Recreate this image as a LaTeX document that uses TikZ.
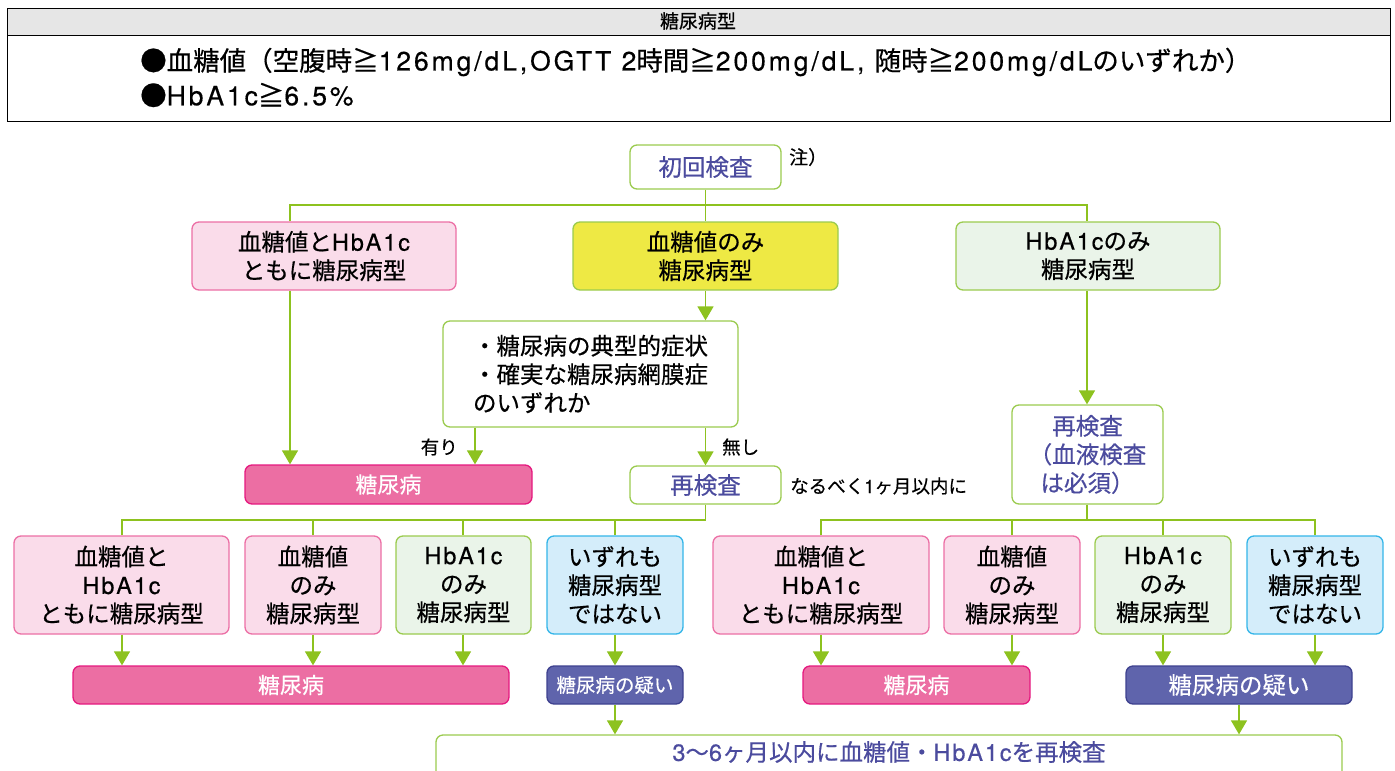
\documentclass[tikz,border=0pt]{standalone}
\usepackage{fontspec}
\setmainfont{Noto Sans CJK JP}[FakeBold=0.5]
\newfontfamily\latws{TeX Gyre Heros}[FakeBold=0.4,LetterSpace=8]
\newfontfamily\lathd{TeX Gyre Heros}[FakeBold=0.4,LetterSpace=11]
\newcommand\lw[1]{{\latws #1}}
\newcommand\lh[1]{{\lathd #1}}
\usetikzlibrary{arrows.meta}
\definecolor{lgreen}{HTML}{8DC21F}
\definecolor{bgreen}{HTML}{9BCB4F}
\definecolor{pinkfill}{HTML}{FADCEA}
\definecolor{pinkline}{HTML}{EC6FA5}
\definecolor{greenfill}{HTML}{EAF4E9}
\definecolor{cyanfill}{HTML}{D4EDFA}
\definecolor{cyanline}{HTML}{33B5E8}
\definecolor{yel}{HTML}{EEE944}
\definecolor{magfill}{HTML}{EC6EA3}
\definecolor{magline}{HTML}{E5197F}
\definecolor{purfill}{HTML}{5F64AC}
\definecolor{purline}{HTML}{3E418F}
\definecolor{purtext}{HTML}{4B4B9E}
\definecolor{hdrgray}{HTML}{E6E6E6}
\begin{document}
\begin{tikzpicture}[x=1pt,y=-1pt,
 box/.style={draw, rounded corners=7pt, line width=1.3pt, align=center, inner sep=0pt, font=\fontsize{23.5}{28.5}\selectfont},
 wbox/.style={box, draw=bgreen, fill=white},
 pbox/.style={box, draw=pinkline, fill=pinkfill},
 gbox/.style={box, draw=bgreen, fill=greenfill},
 cbox/.style={box, draw=cyanline, fill=cyanfill},
 ybox/.style={box, draw=bgreen, fill=yel},
 mbar/.style={box, draw=magline, fill=magfill, text=white},
 qbar/.style={box, draw=purline, fill=purfill, text=white},
 conn/.style={draw=lgreen, line width=1.5pt},
 arr/.style={conn, -{Triangle[width=16pt,length=14pt]}},
 lbl/.style={font=\fontsize{18.5}{22}\selectfont, inner sep=0pt},
 hdr/.style={inner sep=0pt, anchor=west, font=\fontsize{26.5}{30}\selectfont}
]
\useasboundingbox (0,0) rectangle (1395,771);
% header
\draw[line width=1pt, fill=hdrgray] (7,8) rectangle (1390,35);
\draw[line width=1pt] (7,8) rectangle (1390,121);
\node[inner sep=0pt, font=\fontsize{19}{22}\selectfont] (htitle) at (698,21) {糖尿病型};
\node[hdr] (hl1) at (140,62) {●血糖値（空腹時≧\lh{126mg/dL,OGTT 2}時間≧\lh{200mg/dL, }随時≧\lh{200mg/dL}のいずれか）};
\node[hdr] (hl2) at (140,95) {●\lh{HbA1c}≧\lh{6.5\%}};

% level 1
\node[wbox, text=purtext, minimum width=151pt, minimum height=44pt] (init) at (705.5,167) {初回検査};
\node[lbl, anchor=west, font=\fontsize{19}{22}\selectfont] (note) at (789,157) {注）};
\node[pbox, minimum width=264pt, minimum height=68pt] (A) at (324,256) {血糖値と\lw{HbA1c}\\ともに糖尿病型};
\node[ybox, minimum width=265pt, minimum height=68pt] (B) at (705.5,256) {血糖値のみ\\糖尿病型};
\node[gbox, minimum width=264pt, minimum height=68pt] (C) at (1088,256) {\lw{HbA1c}のみ\\糖尿病型};
\coordinate (j1) at (705.5,205);
\coordinate (xa) at (290,0);
\coordinate (xc) at (1087,0);
\draw[conn] (init) -- (B);
\draw[conn] (xa |- A.north) -- (xa |- j1) -- (xc |- j1) -- (xc |- C.north);

% level 2
\node[wbox, align=left, minimum width=295pt, minimum height=106pt] (D) at (590.5,374) {・糖尿病の典型的症状\\・確実な糖尿病網膜症\\のいずれか};
\draw[arr] (B.south) -- (B.south |- D.north);
\node[mbar, minimum width=287pt, minimum height=39pt, font=\fontsize{22}{26}\selectfont] (E) at (388.5,484.5) {糖尿病};
\node[wbox, text=purtext, minimum width=151pt, minimum height=38pt] (F) at (705.5,485) {再検査};
\node[lbl, anchor=west] (soon) at (790,486) {なるべく\lw{1}ヶ月以内に};
\coordinate (xy) at (475,0);
\draw[arr] (xy |- D.south) -- (xy |- E.north);
\node[lbl, anchor=east] (ari) at (458,447) {有り};
\draw[arr] (F.north |- D.south) -- (F.north);
\node[lbl, anchor=west] (nashi) at (722,447) {無し};
\draw[arr] (xa |- A.south) -- (xa |- E.north);
\node[wbox, text=purtext, align=left, minimum width=151pt, minimum height=99pt] (G) at (1087.5,454.5) {\hspace*{1em}再検査\\（血液検査\\\hspace*{0.5em}は必須）};
\draw[arr] (xc |- C.south) -- (xc |- G.north);

% level 3 left
\node[pbox, minimum width=215pt, minimum height=98pt] (L1) at (121.5,585) {血糖値と\\\lw{HbA1c}\\ともに糖尿病型};
\node[pbox, minimum width=136pt, minimum height=98pt] (L2) at (313,585) {血糖値\\のみ\\糖尿病型};
\node[gbox, minimum width=135pt, minimum height=98pt] (L3) at (463.5,585) {\lw{HbA1c}\\のみ\\糖尿病型};
\node[cbox, minimum width=136pt, minimum height=98pt] (L4) at (615,585) {いずれも\\糖尿病型\\ではない};
\coordinate (j2) at (705.5,520);
\coordinate (x1) at (122,0);
\coordinate (x2) at (313,0);
\coordinate (x3) at (463,0);
\coordinate (x4) at (615,0);
\draw[conn] (F.south) -- (j2);
\draw[conn] (x1 |- L1.north) -- (x1 |- j2) -- (j2);
\draw[conn] (x2 |- j2) -- (x2 |- L2.north);
\draw[conn] (x3 |- j2) -- (x3 |- L3.north);
\draw[conn] (x4 |- j2) -- (x4 |- L4.north);
\node[mbar, minimum width=436pt, minimum height=38pt, font=\fontsize{22}{26}\selectfont] (LE) at (291,685) {糖尿病};
\node[qbar, minimum width=136pt, minimum height=38pt, font=\fontsize{19.5}{24}\selectfont] (LQ) at (615,685) {糖尿病の疑い};
\draw[arr] (x1 |- L1.south) -- (x1 |- LE.north);
\draw[arr] (x2 |- L2.south) -- (x2 |- LE.north);
\draw[arr] (x3 |- L3.south) -- (x3 |- LE.north);
\draw[arr] (x4 |- L4.south) -- (x4 |- LQ.north);

% level 3 right
\node[pbox, minimum width=216pt, minimum height=98pt] (R1) at (821,585) {血糖値と\\\lw{HbA1c}\\ともに糖尿病型};
\node[pbox, minimum width=136pt, minimum height=98pt] (R2) at (1012,585) {血糖値\\のみ\\糖尿病型};
\node[gbox, minimum width=136pt, minimum height=98pt] (R3) at (1163,585) {\lw{HbA1c}\\のみ\\糖尿病型};
\node[cbox, minimum width=136pt, minimum height=98pt] (R4) at (1315,585) {いずれも\\糖尿病型\\ではない};
\coordinate (j3) at (1087,520);
\coordinate (y1) at (821,0);
\coordinate (y2) at (1012,0);
\coordinate (y3) at (1163,0);
\coordinate (y4) at (1315,0);
\draw[conn] (xc |- G.south) -- (j3);
\draw[conn] (y1 |- R1.north) -- (y1 |- j3) -- (y4 |- j3) -- (y4 |- R4.north);
\draw[conn] (y2 |- j3) -- (y2 |- R2.north);
\draw[conn] (y3 |- j3) -- (y3 |- R3.north);
\node[mbar, minimum width=227pt, minimum height=38pt, font=\fontsize{22}{26}\selectfont] (RE) at (916.5,685) {糖尿病};
\node[qbar, minimum width=226pt, minimum height=38pt] (RQ) at (1239,685) {糖尿病の疑い};
\draw[arr] (y1 |- R1.south) -- (y1 |- RE.north);
\draw[arr] (y2 |- R2.south) -- (y2 |- RE.north);
\draw[arr] (y3 |- R3.south) -- (y3 |- RQ.north);
\draw[arr] (y4 |- R4.south) -- (y4 |- RQ.north);

% bottom
\node[wbox, minimum width=906pt, minimum height=60pt] (bot) at (889,765) {};
\node[inner sep=0pt, text=purtext, font=\fontsize{23.5}{28}\selectfont] (bottxt) at (889,752) {\lw{3}〜\lw{6}ヶ月以内に血糖値・\lw{HbA1c}を再検査};
\draw[arr] (x4 |- LQ.south) -- (x4 |- bot.north);
\coordinate (zq) at (1239,0);
\draw[arr] (zq |- RQ.south) -- (zq |- bot.north);
\end{tikzpicture}
\end{document}
